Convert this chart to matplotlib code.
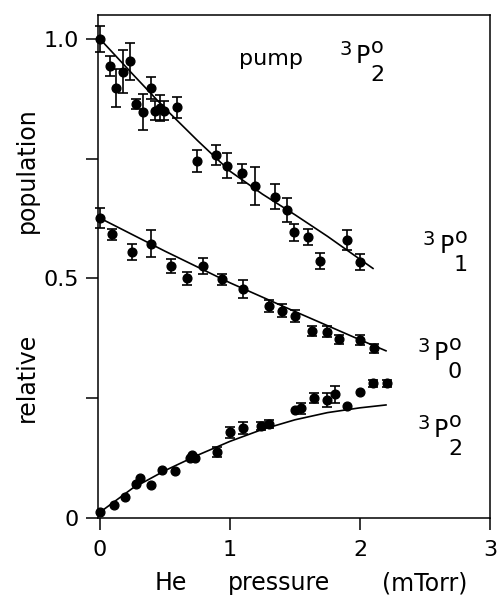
import numpy as np
import matplotlib
matplotlib.use("Agg")
import matplotlib.pyplot as plt

# 3P2 pumped: population of the pumped level
x_p2 = [0.0, 0.08, 0.12, 0.18, 0.23, 0.28, 0.33, 0.39, 0.42, 0.46, 0.49, 0.59,
        0.75, 0.89, 0.98, 1.09, 1.19, 1.35, 1.44, 1.49, 1.60, 1.69, 1.90, 2.00]
y_p2 = [1.0, 0.944, 0.897, 0.932, 0.953, 0.864, 0.848, 0.897, 0.850, 0.856, 0.850, 0.857,
        0.745, 0.758, 0.735, 0.720, 0.693, 0.671, 0.643, 0.596, 0.586, 0.537, 0.580, 0.535]
e_p2 = [0.027, 0.021, 0.040, 0.045, 0.038, 0.010, 0.038, 0.023, 0.020, 0.028, 0.020, 0.021,
        0.023, 0.021, 0.026, 0.020, 0.040, 0.026, 0.026, 0.017, 0.017, 0.017, 0.021, 0.017]

# 3P1 + 3P0
x_p1 = [0.0, 0.09, 0.25, 0.39, 0.55, 0.67, 0.79, 0.94, 1.10, 1.30, 1.40, 1.50,
        1.63, 1.75, 1.84, 2.00, 2.11]
y_p1 = [0.626, 0.592, 0.556, 0.573, 0.526, 0.500, 0.526, 0.498, 0.478, 0.443, 0.433, 0.422,
        0.390, 0.389, 0.373, 0.372, 0.354]
e_p1 = [0.021, 0.011, 0.017, 0.028, 0.015, 0.013, 0.016, 0.012, 0.019, 0.013, 0.013, 0.013,
        0.010, 0.011, 0.009, 0.010, 0.009]

# transferred to 3P2
x_t2 = [0.0, 0.11, 0.19, 0.28, 0.31, 0.39, 0.48, 0.58, 0.69, 0.71, 0.73, 0.90,
        1.00, 1.10, 1.24, 1.30, 1.50, 1.55, 1.65, 1.75, 1.81, 1.90, 2.00, 2.10, 2.21]
y_t2 = [0.012, 0.027, 0.043, 0.071, 0.083, 0.069, 0.100, 0.099, 0.126, 0.131, 0.125, 0.138,
        0.179, 0.188, 0.192, 0.196, 0.225, 0.229, 0.250, 0.246, 0.258, 0.234, 0.264, 0.281, 0.281]
e_t2 = [0, 0, 0, 0, 0, 0, 0, 0, 0, 0, 0, 0.010,
        0.012, 0.013, 0.008, 0.008, 0, 0.012, 0.010, 0.014, 0.017, 0, 0, 0.008, 0.008]

# model curves
xc_p2 = [0, 0.25, 0.5, 0.75, 1.0, 1.25, 1.5, 1.75, 2.0, 2.1]
yc_p2 = [1.0, 0.927, 0.855, 0.788, 0.724, 0.676, 0.633, 0.588, 0.540, 0.521]
xc_p1 = [0, 0.5, 1.0, 1.5, 2.0, 2.2]
yc_p1 = [0.626, 0.557, 0.491, 0.431, 0.372, 0.349]
xc_t2 = [0, 0.25, 0.5, 0.75, 1.0, 1.25, 1.5, 1.75, 2.0, 2.2]
yc_t2 = [0.012, 0.062, 0.099, 0.131, 0.160, 0.185, 0.205, 0.220, 0.230, 0.236]

plt.rcParams['font.family'] = ['DejaVu Sans']

fig = plt.figure(figsize=(5, 5.95), dpi=100)
ax = fig.add_axes([0.196, 0.1294, 0.784, 0.8454])


def points(x, y, e):
    x, y, e = np.array(x), np.array(y), np.array(e)
    m = e > 0
    ax.errorbar(x[m], y[m], yerr=e[m], fmt='none', ecolor='black', elinewidth=1.2,
                capsize=3.8, capthick=1.2, clip_on=False)
    ax.plot(x, y, 'o', color='black', markersize=6.3, clip_on=False)


for xs, ys, es in [(x_p2, y_p2, e_p2), (x_p1, y_p1, e_p1), (x_t2, y_t2, e_t2)]:
    points(xs, ys, es)

for xs, ys in [(xc_p2, yc_p2), (xc_p1, yc_p1), (xc_t2, yc_t2)]:
    ax.plot(xs, ys, color='black', lw=1.2)

ax.set_xlim(-0.015, 3.0)
ax.set_ylim(0, 1.05)
ax.set_xticks([0, 1, 2, 3])
ax.set_xticklabels(['0', '1', '2', '3'])
ax.set_yticks([0, 0.25, 0.5, 0.75, 1.0])
ax.set_yticklabels(['0', '', '0.5', '', '1.0'])
ax.tick_params(direction='out', length=8.5, width=1.1, labelsize=16, pad=5)
ax.tick_params(axis='x', pad=7)
for s in ax.spines.values():
    s.set_linewidth(1.1)


def term(x, y, j):
    ax.text(x, y, 'P', fontsize=17, ha='left', va='baseline')
    ax.annotate('3', (x, y), xytext=(-12, 6), textcoords='offset points',
                fontsize=14, va='baseline')
    ax.annotate('o', (x, y), xytext=(11, 7), textcoords='offset points',
                fontsize=15, va='baseline')
    ax.annotate(j, (x, y), xytext=(10, -13), textcoords='offset points',
                fontsize=16, va='baseline')


ax.text(1.066, 0.946, 'pump', fontsize=16, va='baseline')
term(1.97, 0.95, '2')
term(2.61, 0.553, '1')
term(2.57, 0.330, '0')
term(2.57, 0.169, '2')

fig.text(0.054, 0.714, 'population', rotation=90, fontsize=17, ha='center', va='center')
fig.text(0.054, 0.366, 'relative', rotation=90, fontsize=17, ha='center', va='center')
fig.text(155 / 500, 1 - 590 / 595, 'He', fontsize=17, va='baseline')
fig.text(228 / 500, 1 - 590 / 595, 'pressure', fontsize=17, va='baseline')
fig.text(382 / 500, 1 - 590 / 595, '(mTorr)', fontsize=17, va='baseline')

fig.savefig('out.png', dpi=100)
